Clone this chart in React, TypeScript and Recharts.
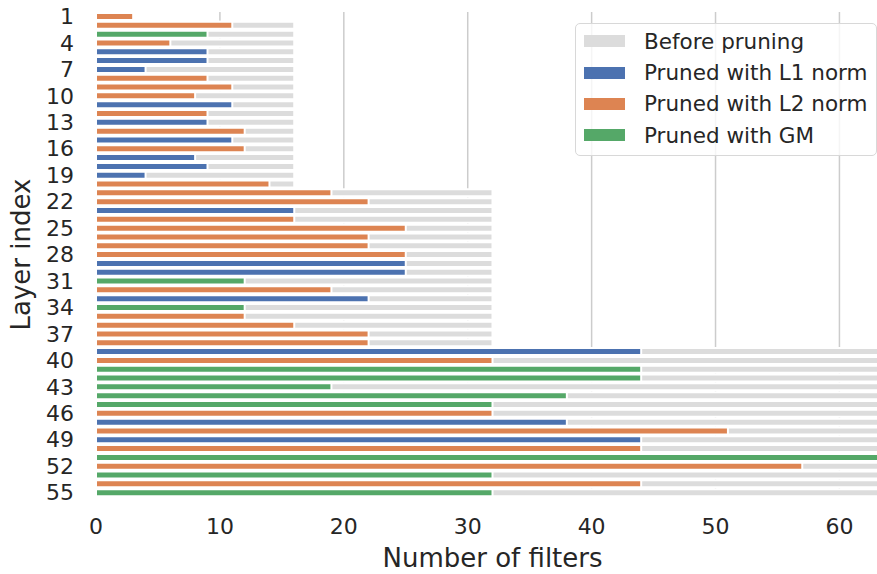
import React from 'react';
import { BarChart, Bar, XAxis, YAxis, CartesianGrid, Legend } from 'recharts';

const layers = [
  1, 2, 3, 4, 5, 6, 7, 8, 9, 10, 11, 12, 13, 14, 15, 16, 17, 18, 19, 20,
  21, 22, 23, 24, 25, 26, 27, 28, 29, 30, 31, 32, 33, 34, 35, 36, 37, 38, 39, 40,
  41, 42, 43, 44, 45, 46, 47, 48, 49, 50, 51, 52, 53, 54, 55,
];

const beforePruning = [
  3, 16, 16, 16, 16, 16, 16, 16, 16, 16, 16, 16, 16, 16, 16, 16, 16, 16, 16, 16,
  32, 32, 32, 32, 32, 32, 32, 32, 32, 32, 32, 32, 32, 32, 32, 32, 32, 32, 64, 64,
  64, 64, 64, 64, 64, 64, 64, 64, 64, 64, 64, 64, 64, 64, 64,
];

const prunedFilters = [
  3, 11, 9, 6, 9, 9, 4, 9, 11, 8, 11, 9, 9, 12, 11, 12, 8, 9, 4, 14,
  19, 22, 16, 16, 25, 22, 22, 25, 25, 25, 12, 19, 22, 12, 12, 16, 22, 22, 44, 32,
  44, 44, 19, 38, 32, 32, 38, 51, 44, 44, 64, 57, 32, 44, 32,
];

const pruneMethod = [
  'L2', 'L2', 'GM', 'L2', 'L1', 'L1', 'L1', 'L2', 'L2', 'L2',
  'L1', 'L2', 'L1', 'L2', 'L1', 'L2', 'L1', 'L1', 'L1', 'L2',
  'L2', 'L2', 'L1', 'L2', 'L2', 'L2', 'L2', 'L2', 'L1', 'L1',
  'GM', 'L2', 'L1', 'GM', 'L2', 'L2', 'L2', 'L2', 'L1', 'L2',
  'GM', 'GM', 'GM', 'GM', 'GM', 'L2', 'L1', 'L2', 'L1', 'L2',
  'GM', 'L2', 'GM', 'L2', 'GM',
];

const xTicks = [0, 10, 20, 30, 40, 50, 60];

const seriesNames = ['Before pruning', 'Pruned with L1 norm', 'Pruned with L2 norm', 'Pruned with GM'];
const seriesColors = ['#dcdcdc', '#4c72b0', '#dd8452', '#55a868'];

const data = layers.map((layer, i) => ({
  layer,
  before: beforePruning[i],
  l1: pruneMethod[i] === 'L1' ? prunedFilters[i] : null,
  l2: pruneMethod[i] === 'L2' ? prunedFilters[i] : null,
  gm: pruneMethod[i] === 'GM' ? prunedFilters[i] : null,
}));

const FONT = '"DejaVu Sans", Verdana, sans-serif';
const TEXT = '#262626';

const renderLegend = (props: any) => {
  const payload = [...(props.payload || [])].sort(
    (a: any, b: any) => seriesNames.indexOf(a.value) - seriesNames.indexOf(b.value)
  );
  return (
    <div
      style={{
        boxSizing: 'border-box',
        width: 302,
        height: 133,
        border: '1px solid #d8d8d8',
        borderRadius: 5,
        background: 'rgba(255,255,255,0.8)',
        paddingTop: 1.5,
        fontFamily: FONT,
        fontSize: 21.5,
        color: TEXT,
      }}
    >
      {payload.map((e: any) => (
        <div key={e.value} style={{ display: 'flex', alignItems: 'center', height: 31.4 }}>
          <span
            style={{
              display: 'inline-block',
              width: 41,
              height: 12,
              background: e.color,
              marginLeft: 8,
              marginRight: 19,
            }}
          />
          <span style={{ whiteSpace: 'nowrap' }}>{e.value}</span>
        </div>
      ))}
    </div>
  );
};

export default function App() {
  return (
    <div
      style={{
        position: 'absolute',
        left: 0,
        top: 0,
        width: 877,
        height: 574,
        overflow: 'hidden',
        background: '#ffffff',
      }}
    >
      <BarChart
        layout="vertical"
        width={889}
        height={574}
        data={data}
        margin={{ top: 12, right: 0, bottom: 0, left: 0 }}
      >
        <CartesianGrid horizontal={false} vertical={true} stroke="#cccccc" strokeWidth={1.5} />
        <XAxis
          type="number"
          domain={[0, 64]}
          ticks={xTicks}
          axisLine={false}
          tickLine={false}
          tickSize={0}
          tickMargin={21}
          height={77}
          tick={{ fontSize: 22, fill: TEXT, fontFamily: FONT }}
          label={{
            value: 'Number of filters',
            position: 'insideBottom',
            offset: 7,
            style: { fontSize: 26, fill: TEXT, fontFamily: FONT },
          }}
        />
        <YAxis
          yAxisId="before"
          type="category"
          dataKey="layer"
          width={96}
          interval={2}
          axisLine={false}
          tickLine={false}
          tickSize={0}
          tickMargin={22}
          tick={{ fontSize: 22, fill: TEXT, fontFamily: FONT }}
          label={{
            value: 'Layer index',
            angle: -90,
            position: 'insideLeft',
            offset: 21,
            style: { fontSize: 26, fill: TEXT, fontFamily: FONT, textAnchor: 'middle' },
          }}
        />
        <YAxis yAxisId="pruned" type="category" dataKey="layer" hide />
        <Legend
          layout="vertical"
          align="center"
          verticalAlign="middle"
          content={renderLegend}
          wrapperStyle={{ position: 'absolute', left: 575, top: 23, width: 302, height: 133 }}
        />
        <Bar
          yAxisId="before"
          dataKey="before"
          name={seriesNames[0]}
          fill={seriesColors[0]}
          stroke="#ffffff"
          strokeWidth={2}
          barSize={7}
          isAnimationActive={false}
        />
        <Bar
          yAxisId="pruned"
          dataKey="l1"
          stackId="p"
          name={seriesNames[1]}
          fill={seriesColors[1]}
          stroke="#ffffff"
          strokeWidth={2}
          barSize={7}
          isAnimationActive={false}
        />
        <Bar
          yAxisId="pruned"
          dataKey="l2"
          stackId="p"
          name={seriesNames[2]}
          fill={seriesColors[2]}
          stroke="#ffffff"
          strokeWidth={2}
          barSize={7}
          isAnimationActive={false}
        />
        <Bar
          yAxisId="pruned"
          dataKey="gm"
          stackId="p"
          name={seriesNames[3]}
          fill={seriesColors[3]}
          stroke="#ffffff"
          strokeWidth={2}
          barSize={7}
          isAnimationActive={false}
        />
      </BarChart>
    </div>
  );
}
